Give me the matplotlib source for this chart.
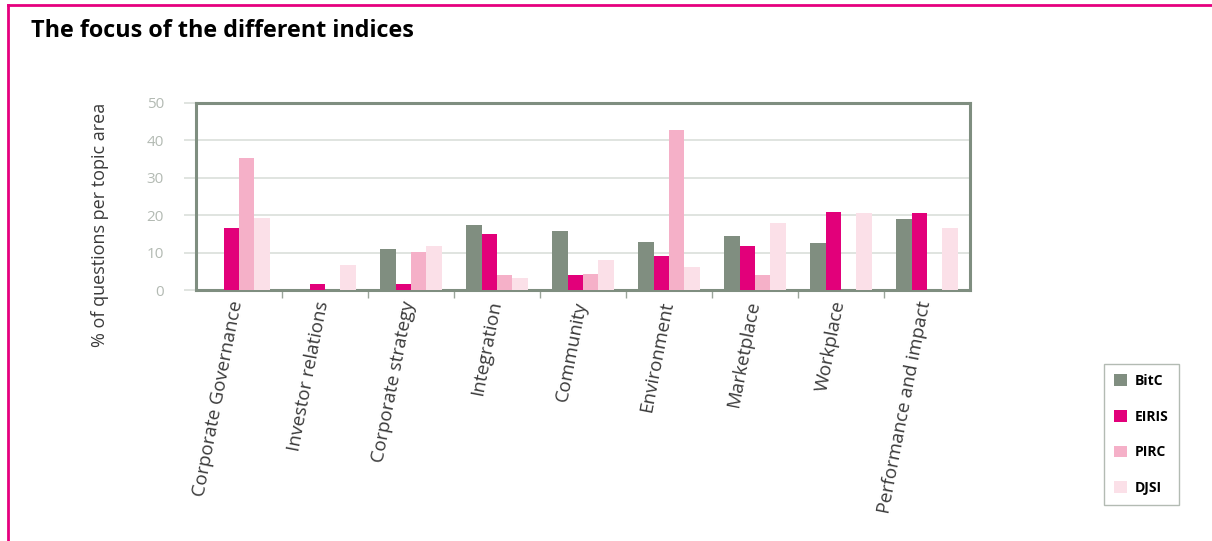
import numpy as np
import matplotlib.pyplot as plt
from matplotlib.lines import Line2D

# ------------------------------------------------------------------------------
# Datos (% de preguntas por área temática)
# ------------------------------------------------------------------------------
categorias = ['Corporate Governance', 'Investor relations', 'Corporate strategy',
              'Integration', 'Community', 'Environment', 'Marketplace',
              'Workplace', 'Performance and impact']
bitc = [0, 0, 11.0, 17.4, 15.8, 12.9, 14.4, 12.6, 19.0]
eiris = [16.6, 1.6, 1.6, 15.0, 4.0, 9.1, 11.7, 20.9, 20.6]
pirc = [35.2, 0, 10.2, 4.0, 4.3, 42.9, 4.0, 0, 0]
djsi = [19.3, 6.7, 11.8, 3.2, 8.0, 6.1, 18.0, 20.6, 16.6]
series = ['BitC', 'EIRIS', 'PIRC', 'DJSI']
y_ticks = [0, 10, 20, 30, 40, 50]

colores = ['#808e80', '#e2007a', '#f5b0c8', '#fbe0e8']
gris_marco = '#7f8e80'

# ------------------------------------------------------------------------------
# Figura
# ------------------------------------------------------------------------------
plt.rcParams['font.family'] = ['Open Sans', 'DejaVu Sans']
fig = plt.figure(figsize=(12.12, 5.41), dpi=100)

# marco rosa (solo arriba e izquierda)
fig.add_artist(Line2D([7.5 / 1212, 1], [1 - 4.5 / 541, 1 - 4.5 / 541],
                      color='#e6007e', lw=2, transform=fig.transFigure))
fig.add_artist(Line2D([7.5 / 1212, 7.5 / 1212], [0, 1 - 4.5 / 541],
                      color='#e6007e', lw=2, transform=fig.transFigure))

fig.text(31 / 1212, 1 - 31 / 541, 'The focus of the different indices',
         fontsize=16.8, fontweight='bold', va='center', ha='left', color='black')

ax = fig.add_axes([196 / 1212, 1 - 290 / 541, 774 / 1212, 187 / 541])

x = np.arange(len(categorias))
ancho = 0.178
datos = [bitc, eiris, pirc, djsi]
for k, (vals, c, nombre) in enumerate(zip(datos, colores, series)):
    ax.bar(x + (k - 1.5) * ancho, vals, ancho, color=c, label=nombre,
           linewidth=0, zorder=3)

ax.set_xlim(-0.5, len(categorias) - 0.5)
ax.set_ylim(0, 50)
ax.set_yticks(y_ticks)
ax.yaxis.grid(True, color='#dde2dd', lw=1.3, zorder=0)
ax.tick_params(axis='y', length=9, color='#dde2dd', width=1.3,
               labelcolor='#b3bab3', labelsize=11, pad=14)

# marcas entre categorías
ax.set_xticks(x[:-1] + 0.5)
ax.set_xticklabels([])
ax.tick_params(axis='x', length=6, color='#9aa49a', width=1)
for xi, lab in zip(x, categorias):
    ax.text(xi - 0.12, -2.5, lab, rotation=79, rotation_mode='anchor',
            ha='right', va='top', fontsize=13.5, color='#3a3a3a')

for s in ax.spines.values():
    s.set_color(gris_marco)
    s.set_linewidth(2.2)

fig.text(100 / 1212, 1 - 225 / 541, '% of questions per topic area',
         rotation=90, ha='center', va='center', fontsize=13, color='#3a3a3a')

ley = fig.legend(loc='lower left', bbox_to_anchor=(1104 / 1212, 1 - 505 / 541),
                 borderaxespad=0, frameon=True, fancybox=False,
                 edgecolor='#a0aaa0', handlelength=0.9, handleheight=0.9,
                 labelspacing=1.55, handletextpad=0.6, borderpad=0.75,
                 fontsize=10)
ley.get_frame().set_linewidth(1)
for t in ley.get_texts():
    t.set_fontweight('bold')

fig.savefig('out.png', dpi=100)
